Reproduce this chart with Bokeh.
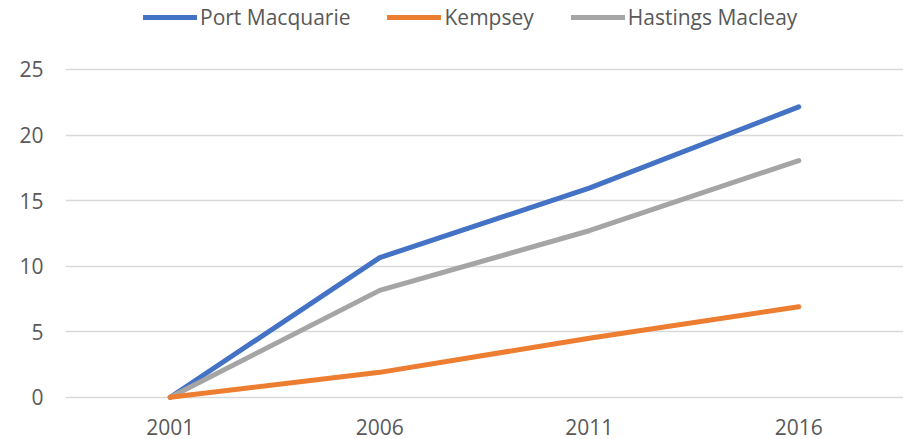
from bokeh.plotting import figure
from bokeh.models import FactorRange, Range1d, Legend, LegendItem, FixedTicker
from bokeh.embed import file_html
from bokeh.resources import INLINE

years = ["2001", "2006", "2011", "2016"]
port_macquarie = [0, 10.65, 15.95, 22.15]
kempsey = [0, 1.9, 4.5, 6.9]
hastings_macleay = [0, 8.15, 12.7, 18.05]
y_ticks = [0, 5, 10, 15, 20, 25]

FONT = "Open Sans"
TXT = "#595959"

p = figure(x_range=FactorRange(*years), y_range=Range1d(-0.4, 30.26),
           width=905, height=439, output_backend="svg", toolbar_location=None,
           min_border_left=65, min_border_right=2, min_border_top=0, min_border_bottom=37)
p.outline_line_color = None

r1 = p.line(years, port_macquarie, line_color="#4472C4", line_width=5, line_cap="round", line_join="round")
r3 = p.line(years, hastings_macleay, line_color="#A5A5A5", line_width=5, line_cap="round", line_join="round")
r2 = p.line(years, kempsey, line_color="#ED7D31", line_width=5, line_cap="round", line_join="round")

p.xgrid.grid_line_color = None
p.ygrid.grid_line_color = "#D9D9D9"
p.ygrid.grid_line_width = 1.5
p.yaxis.ticker = FixedTicker(ticks=y_ticks)

for ax in (p.xaxis[0], p.yaxis[0]):
    ax.axis_line_color = None
    ax.major_tick_line_color = None
    ax.minor_tick_line_color = None
    ax.major_label_text_font = FONT
    ax.major_label_text_font_size = "21px"
    ax.major_label_text_color = TXT
p.yaxis.major_label_standoff = 16
p.xaxis.major_label_standoff = 10

legend = Legend(items=[LegendItem(label="Port Macquarie", renderers=[r1]),
                       LegendItem(label="Kempsey", renderers=[r2]),
                       LegendItem(label="Hastings Macleay", renderers=[r3])],
                orientation="horizontal", location=(78, 371),
                glyph_width=54, glyph_height=20, label_height=20, label_standoff=3,
                spacing=37, padding=0, margin=0,
                border_line_color=None, background_fill_alpha=0,
                label_text_font=FONT, label_text_font_size="21px", label_text_color=TXT)
p.add_layout(legend, "center")

open("out.html", "w").write(file_html(p, INLINE))
